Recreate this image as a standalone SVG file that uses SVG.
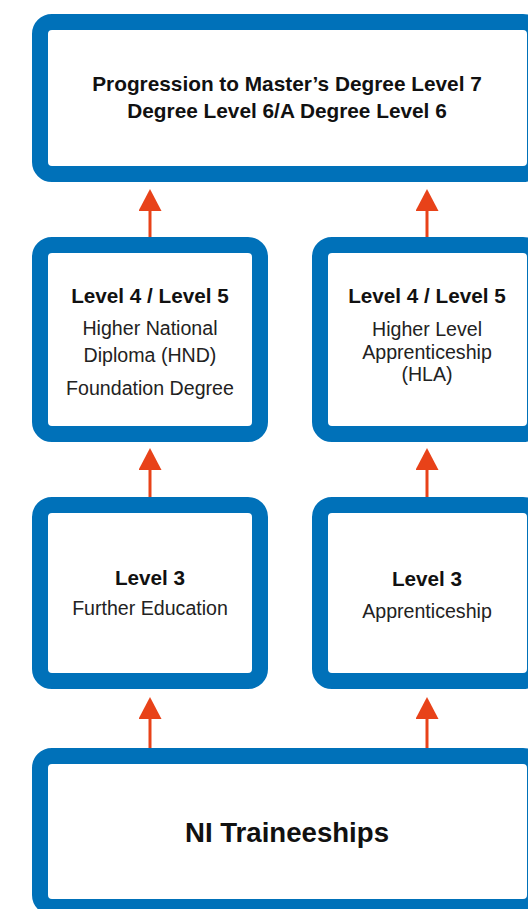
<svg xmlns="http://www.w3.org/2000/svg" width="528" height="909" viewBox="0 0 528 909">
  <style>
    .box { fill: #ffffff; stroke: #0071b9; stroke-width: 16; }
    .conn { stroke: #e84219; stroke-width: 3; fill: none; }
    text { font-family: "Liberation Sans", Arial, sans-serif; fill: #111111; text-anchor: middle; }
    .b { font-weight: bold; font-size: 20.7px; }
    .t { font-weight: bold; font-size: 20.8px; }
    .r { font-size: 19.6px; fill: #222222; }
    .big { font-weight: bold; font-size: 27.6px; }
  </style>
  <defs>
    <marker id="ah" viewBox="0 0 22 23" refX="0" refY="11.5" markerWidth="22" markerHeight="23" markerUnits="userSpaceOnUse" orient="auto">
      <path d="M0,0 L22,11.5 L0,23 Z" fill="#e84219"/>
    </marker>
  </defs>
  <rect width="528" height="909" fill="#ffffff"/>

  <g id="connectors">
    <line class="conn" x1="150" y1="237" x2="150" y2="211" marker-end="url(#ah)"/>
    <line class="conn" x1="427" y1="237" x2="427" y2="211" marker-end="url(#ah)"/>
    <line class="conn" x1="150" y1="497" x2="150" y2="470" marker-end="url(#ah)"/>
    <line class="conn" x1="427" y1="497" x2="427" y2="470" marker-end="url(#ah)"/>
    <line class="conn" x1="150" y1="748" x2="150" y2="719" marker-end="url(#ah)"/>
    <line class="conn" x1="427" y1="748" x2="427" y2="719" marker-end="url(#ah)"/>
  </g>

  <g id="node-progression">
    <rect class="box" x="40" y="22" width="495" height="152" rx="12"/>
    <text class="t" x="287" y="91">Progression to Master’s Degree Level 7</text>
    <text class="t" x="287" y="118">Degree Level 6/A Degree Level 6</text>
  </g>

  <g id="node-hnd">
    <rect class="box" x="40" y="245" width="220" height="189" rx="12"/>
    <text class="b" x="150" y="303">Level 4 / Level 5</text>
    <text class="r" x="150" y="335">Higher National</text>
    <text class="r" x="150" y="362">Diploma (HND)</text>
    <text class="r" x="150" y="395">Foundation Degree</text>
  </g>

  <g id="node-hla">
    <rect class="box" x="320" y="245" width="215" height="189" rx="12"/>
    <text class="b" x="427" y="303">Level 4 / Level 5</text>
    <text class="r" x="427" y="336">Higher Level</text>
    <text class="r" x="427" y="359">Apprenticeship</text>
    <text class="r" x="427" y="381">(HLA)</text>
  </g>

  <g id="node-fe">
    <rect class="box" x="40" y="505" width="220" height="176" rx="12"/>
    <text class="b" x="150" y="585">Level 3</text>
    <text class="r" x="150" y="615">Further Education</text>
  </g>

  <g id="node-apprenticeship">
    <rect class="box" x="320" y="505" width="215" height="176" rx="12"/>
    <text class="b" x="427" y="586">Level 3</text>
    <text class="r" x="427" y="618">Apprenticeship</text>
  </g>

  <g id="node-traineeships">
    <rect class="box" x="40" y="756" width="495" height="151" rx="12"/>
    <text class="big" x="287" y="842">NI Traineeships</text>
  </g>
</svg>
